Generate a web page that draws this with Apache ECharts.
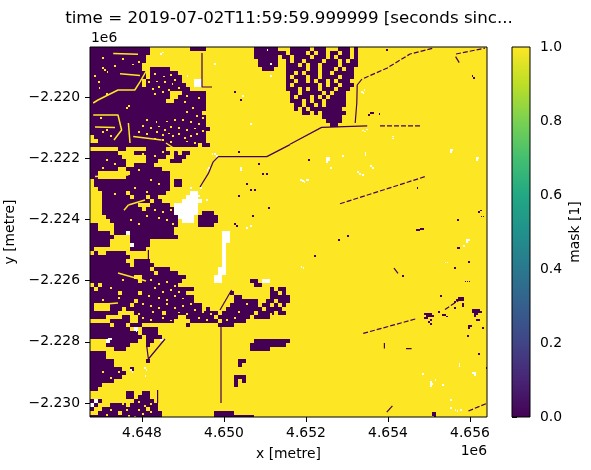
<!DOCTYPE html>
<html>
<head>
<meta charset="utf-8">
<style>html,body{margin:0;padding:0;background:#fff}#chart{width:591px;height:470px}</style>
<script src="https://cdn.jsdelivr.net/npm/echarts@6/dist/echarts.min.js"></script>
</head>
<body>
<div id="chart"></div>
<script>
// axis ranges, metres
const xRange = [4646732, 4656415];
const yRange = [-2230457, -2218366];
const xTicks = [4648000, 4650000, 4652000, 4654000, 4656000];
const yTicks = [-2230000, -2228000, -2226000, -2224000, -2222000, -2220000];
const colorbarTicks = [0, 0.2, 0.4, 0.6, 0.8, 1];

// mask: # = 0, . = 1 (default past end of string), o = no data
const maskRows = [
'###############..........####............######',
'###############..........................#######',
'##############...........................######',
'##############............................#####',
'#############.............................#####',
'#############..#####.......................###',
'##############.#######',
'##############.########',
'#############.#########...oo',
'#############.##########..oo',
'#########################',
'####################...######',
'####################..#######',
'###################..########',
'#############################',
'#############################',
'############################',
'#############################',
'#############################',
'#############################',
'##############################',
'#############################',
'.############################',
'..###########################',
'###########################.##',
'.......##.....#####',
'#######....#########.#.##',
'########......#####..###',
'#########.....###...###',
'#########..#####',
'#######..#########',
'##........##########',
'##.......###########',
'.###################.##',
'.###################.##',
'..##################',
'...######.#########......oo',
'...#######.###.##.......ooo',
'...############.##.....ooooo',
'...#########...#####.oooooo',
'...##########.#######oooooo',
'...##################oooooo.###',
'....##################oooo.#####',
'.....#################.ooo.#####',
'##....################.....####',
'##....###############',
'#####.###o###########............oo',
'######....############...........oo',
'#####.....#####..................oo',
'#####.....o####..................o',
'#.........####...................o',
'.#..#####........................o',
'##########.......................o',
'#########..####..................o',
'##########.#####.................o',
'###############.####............oo',
'################.#####..........oo',
'###########..###########.......oo',
'############.##########........oo.......##.oo',
'.#.###################...................##',
'#.########################...................#.##.',
'#######.####.###########...........#.........##.#.',
'##########################..........##.......#####',
'###########.##############..........######..##.###',
'#....#####.#################.......#######.##.#.#',
'#....###.###################.#....#########.####',
'#######....#######.#############.########.####.##',
'####....##..##########..#######.########.####',
'.....#####..#########....#######.######.',
'#####.###.###...........#.......####...',
'##########.o.####',
'############.####',
'#############.####',
'....o#######..##.........................#########',
'....######....#.........................#########',
'......###...............................#####',
'####',
'####',
'######........#......................##',
'######...............................#',
'########..#',
'#########',
'########............................###',
'######..............................#.#',
'###.................................#',
'##',
'.........##..##',
'.........##.###',
'#o#........#####',
'o#...####.#######',
'#..###########.##',
'..#####.##########.............#####',
'##################.............##########'
];

// speckled patch at the top middle, starts at column 47
const patchStart = 47;
const patchRows = [
'...#####.###...###.#',
'.#.####.#.##.##.##.#',
'.##.####.###.#.###.#',
'..#.##.####.###.#.##',
'..###.#.##.####.####',
'..#####.##.###.#.##.',
'..##.#.###.##.#####.',
'..#.###.##.####.###.',
'..##.##.#.##.#.###..',
'..#.######.#.##.###.',
'..###.#.##.###.###..',
'...##.#####.#.###...',
'...#.###.#.#.####...',
'...###.#.##.#####...',
'....##.##.#.#####...',
'....#.#.########....',
'......##.#.######...',
'...........#####....',
'............####....',
'.............##.....'
];

// small isolated spots, [column, row] on the same grid
const darkSpecks = [
[70,16.3],[70.5,16.3],[69.6,16.8],[72.2,16.5],[81.7,35],[54.6,28],[97.5,40.7],[97,41],[97.7,42.2],[98.2,42.2],
[95.4,7],[95.8,7.5],[91.7,50],[92.1,50],[93.7,58.4],[94.2,58.4],[94.7,58.4],[91.8,43],
[83.5,66.5],[84,66.5],[84.5,66.5],[85,66.5],[85.5,67],[84,67],[84.5,67],[85,67],[83.5,67.5],[84,67.5],[85,68],[84.5,68.5],[85,69],
[92,62.5],[92.5,62.5],[93,62.5],[91.5,63],[92,63],[92.5,63],[93,63],[91,63.5],[93,64],[93,64.5],
[95.5,65.5],[96,65.5],[96.5,65.5],[97,65.5],[95.5,66],[96,66],[96.5,66],[97,66],[97.5,66],[96,66.5],[96.5,66.5],[96,67],[97,68],[96.5,68],
[94.5,69.5],[95,69.5],[94.5,70],[85.5,91.3],[86,91.3],[85.5,91.8],[86,91.8],[86,92.2],
[88,66.8],[88.5,66.8],[89,67.2],[87,66],[91,55],[74,0.5],[94.5,53.5],[78,57],[62,48],[64.3,47],[56,52],
[82.5,45.3],[83,45.3],[81.5,45.6],[82,45.6],[91,65],[87.5,62],[98,70],[94.3,72],[97,76.5],[99,80],
[36,11],[37.5,13],[37,26],[42,29],[43,31.5],[44,31.5],[39,34],[40,35.5],[41,35.6],[37,37],[44.5,40],[40.5,42],[36,44],[36.5,44.5]
];
const whiteSpecks = [
[59,27.5],[59.5,27.5],[59,28],[59.5,28],[59,28.5],[90,25.5],[90.4,25.5],[90,26],[68.7,26.3],[68.7,26.8],[75.5,22.2],[75.5,22.7],
[96.6,27.6],[96.9,27.6],[96.6,28],[52.5,33],[53,33.3],[53.4,33.6],[54,33],[54.4,33],[66.8,31],[67.3,31.5],[68,31.8],[67.8,11],[68.2,11.3],[68.4,10.6],
[68,20.7],[68.6,20.9],[69,20.4],[70,29.6],[70.5,30],[63,27],[60,30],[90,88],[93.3,49.5],
[88.7,53.7],[89.2,53.7],[94.1,48],[94.5,48],[94.1,48.5],[85,83.5],[85,84],[85.4,84],[85,84.5],[95.5,81.3],[96,81.3],[96,81.8],[92.2,79],[92.2,79.5],
[90,90],[91.2,90.5],[91.7,90.8],[92.5,90.5],[52.7,54.8],[53.2,55],[86.2,83],[88,84.3],[83,81.6],
[11,70.5],[11.4,70.9],[17.5,73],[18,73],[10,80.5],[10.4,81],[13.5,80],[13.9,80.5],[13.7,82],[4.5,72.8],[5,72.8],
[30.4,26.5],[31,26.5],[31.6,27],[29.6,30],[29.2,30.6],[27.5,35],[27,37],[26.5,36.8],[37.5,30],[37.5,30.5],[17.5,1.5],[18,1.2],[24.2,7],[31,4],
[25,35],[29,38],[39,45],[40,44.5],[45,4],[38,12],[40,19],[45,7],[44.2,0.6]
];
const yellowSpecks = [
[3,5],[3.5,5.5],[4.2,6],[1,7],[2,8.5],[10.5,4.2],[8,2.8],[3,2.5],[12,3.5],[6,4.5],[2.2,10],[4,11.5],
[16,6.5],[18.3,7.2],[20,6.8],[16.5,8.4],[18.5,8.5],[20.4,9],[17,9.8],[19.5,10.5],[21,8],[15.5,10.3],[18,11],[16,11.5],[22,10],[14.5,8.5],
[9,15],[9.5,14.5],[24,12],[27,12.5],[23.5,13.5],[25.5,15],[24,16],[26.5,17],[28,17.5],[23,18],[25,18.5],[27,19],[29,18.8],
[14,18],[16.4,18.5],[19,18.4],[21,18],[13,19.5],[15,20],[17,19.7],[18.5,20.5],[20,19.8],[22,20],[24,20.5],[26,20.2],
[12,21],[14,21.5],[16.5,21],[18,21.8],[19.5,21.4],[20.5,22],[22,21.6],[23.5,22.5],[25,22],[26.5,21.5],[28,20.8],
[16,22.7],[18,23],[20,23.5],[24,23.4],[26,23.8],[2.5,17.5],[4,20.5],[5,22],[3,21],
[13,26.5],[16,27],[18,26],[4,28],[6,29],[3,30],[12,30.5],[15,33],[17,34],[11,35],[14,36],[6,36.5],
[16,40.5],[18,41],[20,40.5],[17,42.5],[19,43],[14,42],[20.5,44],[12,44],[10,43],
[15,58],[17,59],[19,58.5],[21,59.5],[23,58],[16,60],[18,61],[20,60.5],[22,61],[14.5,62],[17,62.5],[19,63],[21,62],[23,62.7],
[13,64],[15,64.5],[17,65],[19,64],[21,65],[23,64.5],[25,64],[26.5,63.5],[15.5,66],[22,66.2],[24,66.5],[26,65.5],[28,66],[30,66.5],
[27,61.5],[25,61],[13,67.5],[15,68],[18,67.5],[20,68.2],[27,67.5],[29,68],[31,67],[34,68],[36,67.5],[37,66],[39,64],[43,65],[45,66.5],
[8,58],[5,60],[7,62.5],[3,63],[10,64.5],[12,66.5],
[6,79.5],[3,81],[5,82.5],[7,81],[6,88.5],[8,89],[12,88.5],[13.5,89.5],[15,89],[5,90.5],[7,91],[9,90.5],[12,90.5],[13,91.5],[15,91],[4,91.8],[9.5,92],[11,92.2]
];

// thin roads and cut lines as [column, row] vertices
const solidStreaks = [
[[50,24.4],[44.2,27.4],[32.1,27.4],[30.8,28.7],[29.6,31.6],[27.5,35]],
[[50,24.3],[57.9,20.1],[69.3,19.7]],
[[66.3,19],[66.7,14],[66.8,9.5],[68,8]],
[[28,1.5],[28,10],[30.5,10]],
[[32.75,69.3],[32.75,89]],
[[14.6,50.75],[14.6,56]],
[[14.2,74.9],[14.6,78],[18.75,73]],
[[35.4,60.75],[32.5,65.75]],
[[74.2,91.3],[75.6,89.7]],
[[73.6,74],[73.6,75.4]],
[[79,75.4],[80.4,75.4]],
[[76,55.3],[77,56.6]],
[[91.4,2.4],[92.3,3.9]],
[[16.9,85.75],[16.9,89]]
];
const dashedStreaks = [
[[72.5,19.7],[83,19.7]],
[[68.5,7.8],[74.2,5.3],[80,1.75],[85.8,0.3]],
[[62.5,39.2],[83.75,32.4]],
[[68.3,71.6],[81.7,67.9]],
[[88.75,65.6],[93,62.8]],
[[94.6,91],[99.4,89]],
[[91.5,1.75],[98.75,0.3]]
];
// narrow light channels through the dark blocks
const yellowStreaks = [
[[5.8,1.6],[12,1.8]],
[[7.5,6.7],[12.5,7.1]],
[[14.2,5.75],[12.5,8.7],[11.2,10.75],[7,10.75],[2,13.25],[0.8,14]],
[[9.6,19],[10,24]],
[[10.8,22.4],[17.9,23.25]],
[[0.8,17],[7,17],[7.9,20.75],[6,23.25]],
[[1.25,20],[6.25,20.1]],
[[1.25,32.4],[9.6,32]],
[[9.6,39.5],[13.75,38.25]],
[[8.5,40.8],[9.6,39.5]],
[[7,56.5],[14,58.5]],
[[1,64.5],[7,64]],
[[19,24],[22,26]]
];

const viridis = ['#440154','#482475','#414487','#355f8d','#2a788e','#21918c','#22a884','#44bf70','#7ad151','#bddf26','#fde725'];
const maskColor = {'#':'#440154','.':'#fde725','o':'#ffffff'};

const nCols = 100, nRows = 93;
const cellW = (xRange[1]-xRange[0])/99.25;
const cellH = (yRange[1]-yRange[0])/92.5;
const colX = c => xRange[0]+c*cellW;
const rowY = r => yRange[1]-r*cellH;

// join rows into runs so the cells stay crisp
const runs = [];
maskRows.forEach((text, r) => {
  const row = text.padEnd(nCols,'.').split('');
  (patchRows[r]||'').split('').forEach((ch,i) => { if (ch!=='.') row[patchStart+i]=ch; });
  let start = 0;
  for (let c=1;c<=nCols;c++) {
    if (c===nCols || row[c]!==row[start]) {
      runs.push([colX(start),rowY(r),colX(c),rowY(r+1),row[start]]);
      start = c;
    }
  }
});
const specks = (list,ch) => list.map(p => [colX(p[0]),rowY(p[1]),colX(p[0]+0.4),rowY(p[1]+0.4),ch]);
const cells = runs.concat(specks(yellowSpecks,'.'),specks(darkSpecks,'#'),specks(whiteSpecks,'o'));

function drawCell(params, api) {
  const a = api.coord([api.value(0),api.value(1)]);
  const b = api.coord([api.value(2),api.value(3)]);
  const x0 = Math.round(a[0]), y0 = Math.round(a[1]);
  return {
    type:'rect',
    shape:{x:x0,y:y0,width:Math.max(1,Math.round(b[0])-x0),height:Math.max(1,Math.round(b[1])-y0)},
    style:{fill:maskColor[cells[params.dataIndex][4]]}
  };
}
function drawFrame(params, api) {
  const a = api.coord([api.value(0),api.value(3)]);
  const b = api.coord([api.value(2),api.value(1)]);
  return {type:'rect',z2:10,shape:{x:a[0],y:a[1],width:b[0]-a[0],height:b[1]-a[1]},
    style:{fill:'none',stroke:'#000',lineWidth:1}};
}
function drawColorbar(params, api) {
  const a = api.coord([0,1]);
  const b = api.coord([1,0]);
  const stops = viridis.map((color,i) => ({offset:i/(viridis.length-1),color}));
  return {type:'rect',shape:{x:a[0],y:a[1],width:b[0]-a[0],height:b[1]-a[1]},
    style:{fill:new echarts.graphic.LinearGradient(0,1,0,0,stops),stroke:'#000',lineWidth:1}};
}
const toMetres = line => line.map(p => [colX(p[0]),rowY(p[1])]);
const streakSeries = (line,color,width,dash) => ({
  type:'line',data:toMetres(line),showSymbol:false,symbol:'none',clip:true,silent:true,z:3,
  xAxisIndex:0,yAxisIndex:0,
  lineStyle:{color,width,type:dash||'solid'}
});

const font = 'DejaVu Sans';
const labelStyle = {fontFamily:font,fontSize:13.9,color:'#000'};
const cornerStyle = {fontFamily:font,fontSize:13.9,fontWeight:'normal',color:'#000'};
const chart = echarts.init(document.getElementById('chart'));
chart.setOption({
  animation:false,
  backgroundColor:'#fff',
  title:[
    {text:'time = 2019-07-02T11:59:59.999999 [seconds sinc...',left:289,top:10,padding:0,textAlign:'center',
      textStyle:{fontFamily:font,fontSize:16.7,fontWeight:'normal',color:'#000'}},
    {text:'1e6',left:91,top:31,padding:0,textStyle:cornerStyle},
    {text:'1e6',left:487,top:444,padding:0,textAlign:'right',textStyle:cornerStyle}
  ],
  grid:[
    {left:90,top:47,width:397,height:370,outerBoundsMode:'none'},
    {left:512,top:47,width:18,height:370,outerBoundsMode:'none'}
  ],
  xAxis:[
    {type:'value',gridIndex:0,min:xRange[0],max:xRange[1],splitLine:{show:false},axisLine:{show:false},
      name:'x [metre]',nameLocation:'middle',nameGap:30,nameTextStyle:labelStyle,
      axisTick:{show:true,length:5,customValues:xTicks,lineStyle:{color:'#000'}},
      axisLabel:{...labelStyle,margin:9,customValues:xTicks,formatter:v => (v/1e6).toFixed(3)}},
    {type:'value',gridIndex:1,min:0,max:1,show:false}
  ],
  yAxis:[
    {type:'value',gridIndex:0,min:yRange[0],max:yRange[1],splitLine:{show:false},axisLine:{show:false},
      name:'y [metre]',nameLocation:'middle',nameGap:67,nameRotate:90,nameTextStyle:labelStyle,
      axisTick:{show:true,length:5,customValues:yTicks,lineStyle:{color:'#000'}},
      axisLabel:{...labelStyle,margin:10,customValues:yTicks,formatter:v => '\u2212'+(-v/1e6).toFixed(3)}},
    {type:'value',gridIndex:1,min:0,max:1,position:'right',splitLine:{show:false},axisLine:{show:false},
      name:'mask [1]',nameLocation:'middle',nameGap:38,nameRotate:90,nameTextStyle:labelStyle,
      axisTick:{show:true,length:5,customValues:colorbarTicks,lineStyle:{color:'#000'}},
      axisLabel:{...labelStyle,margin:10,customValues:colorbarTicks,formatter:v => v.toFixed(1)}}
  ],
  series:[
    {type:'custom',coordinateSystem:'cartesian2d',xAxisIndex:0,yAxisIndex:0,clip:true,silent:true,z:2,
      data:cells.map(c => c.slice(0,4)),encode:{x:[0,2],y:[1,3]},renderItem:drawCell},
    ...yellowStreaks.map(l => streakSeries(l,'#fde725',1.5)),
    ...solidStreaks.map(l => streakSeries(l,'#440154',1.2)),
    ...dashedStreaks.map(l => streakSeries(l,'#440154',1.2,[5,2])),
    {type:'custom',coordinateSystem:'cartesian2d',xAxisIndex:0,yAxisIndex:0,silent:true,z:5,
      data:[[xRange[0],yRange[0],xRange[1],yRange[1]]],encode:{x:[0,2],y:[1,3]},renderItem:drawFrame},
    {type:'custom',coordinateSystem:'cartesian2d',xAxisIndex:1,yAxisIndex:1,silent:true,z:2,
      data:[[0,0]],renderItem:drawColorbar}
  ]
});
</script>
</body>
</html>
